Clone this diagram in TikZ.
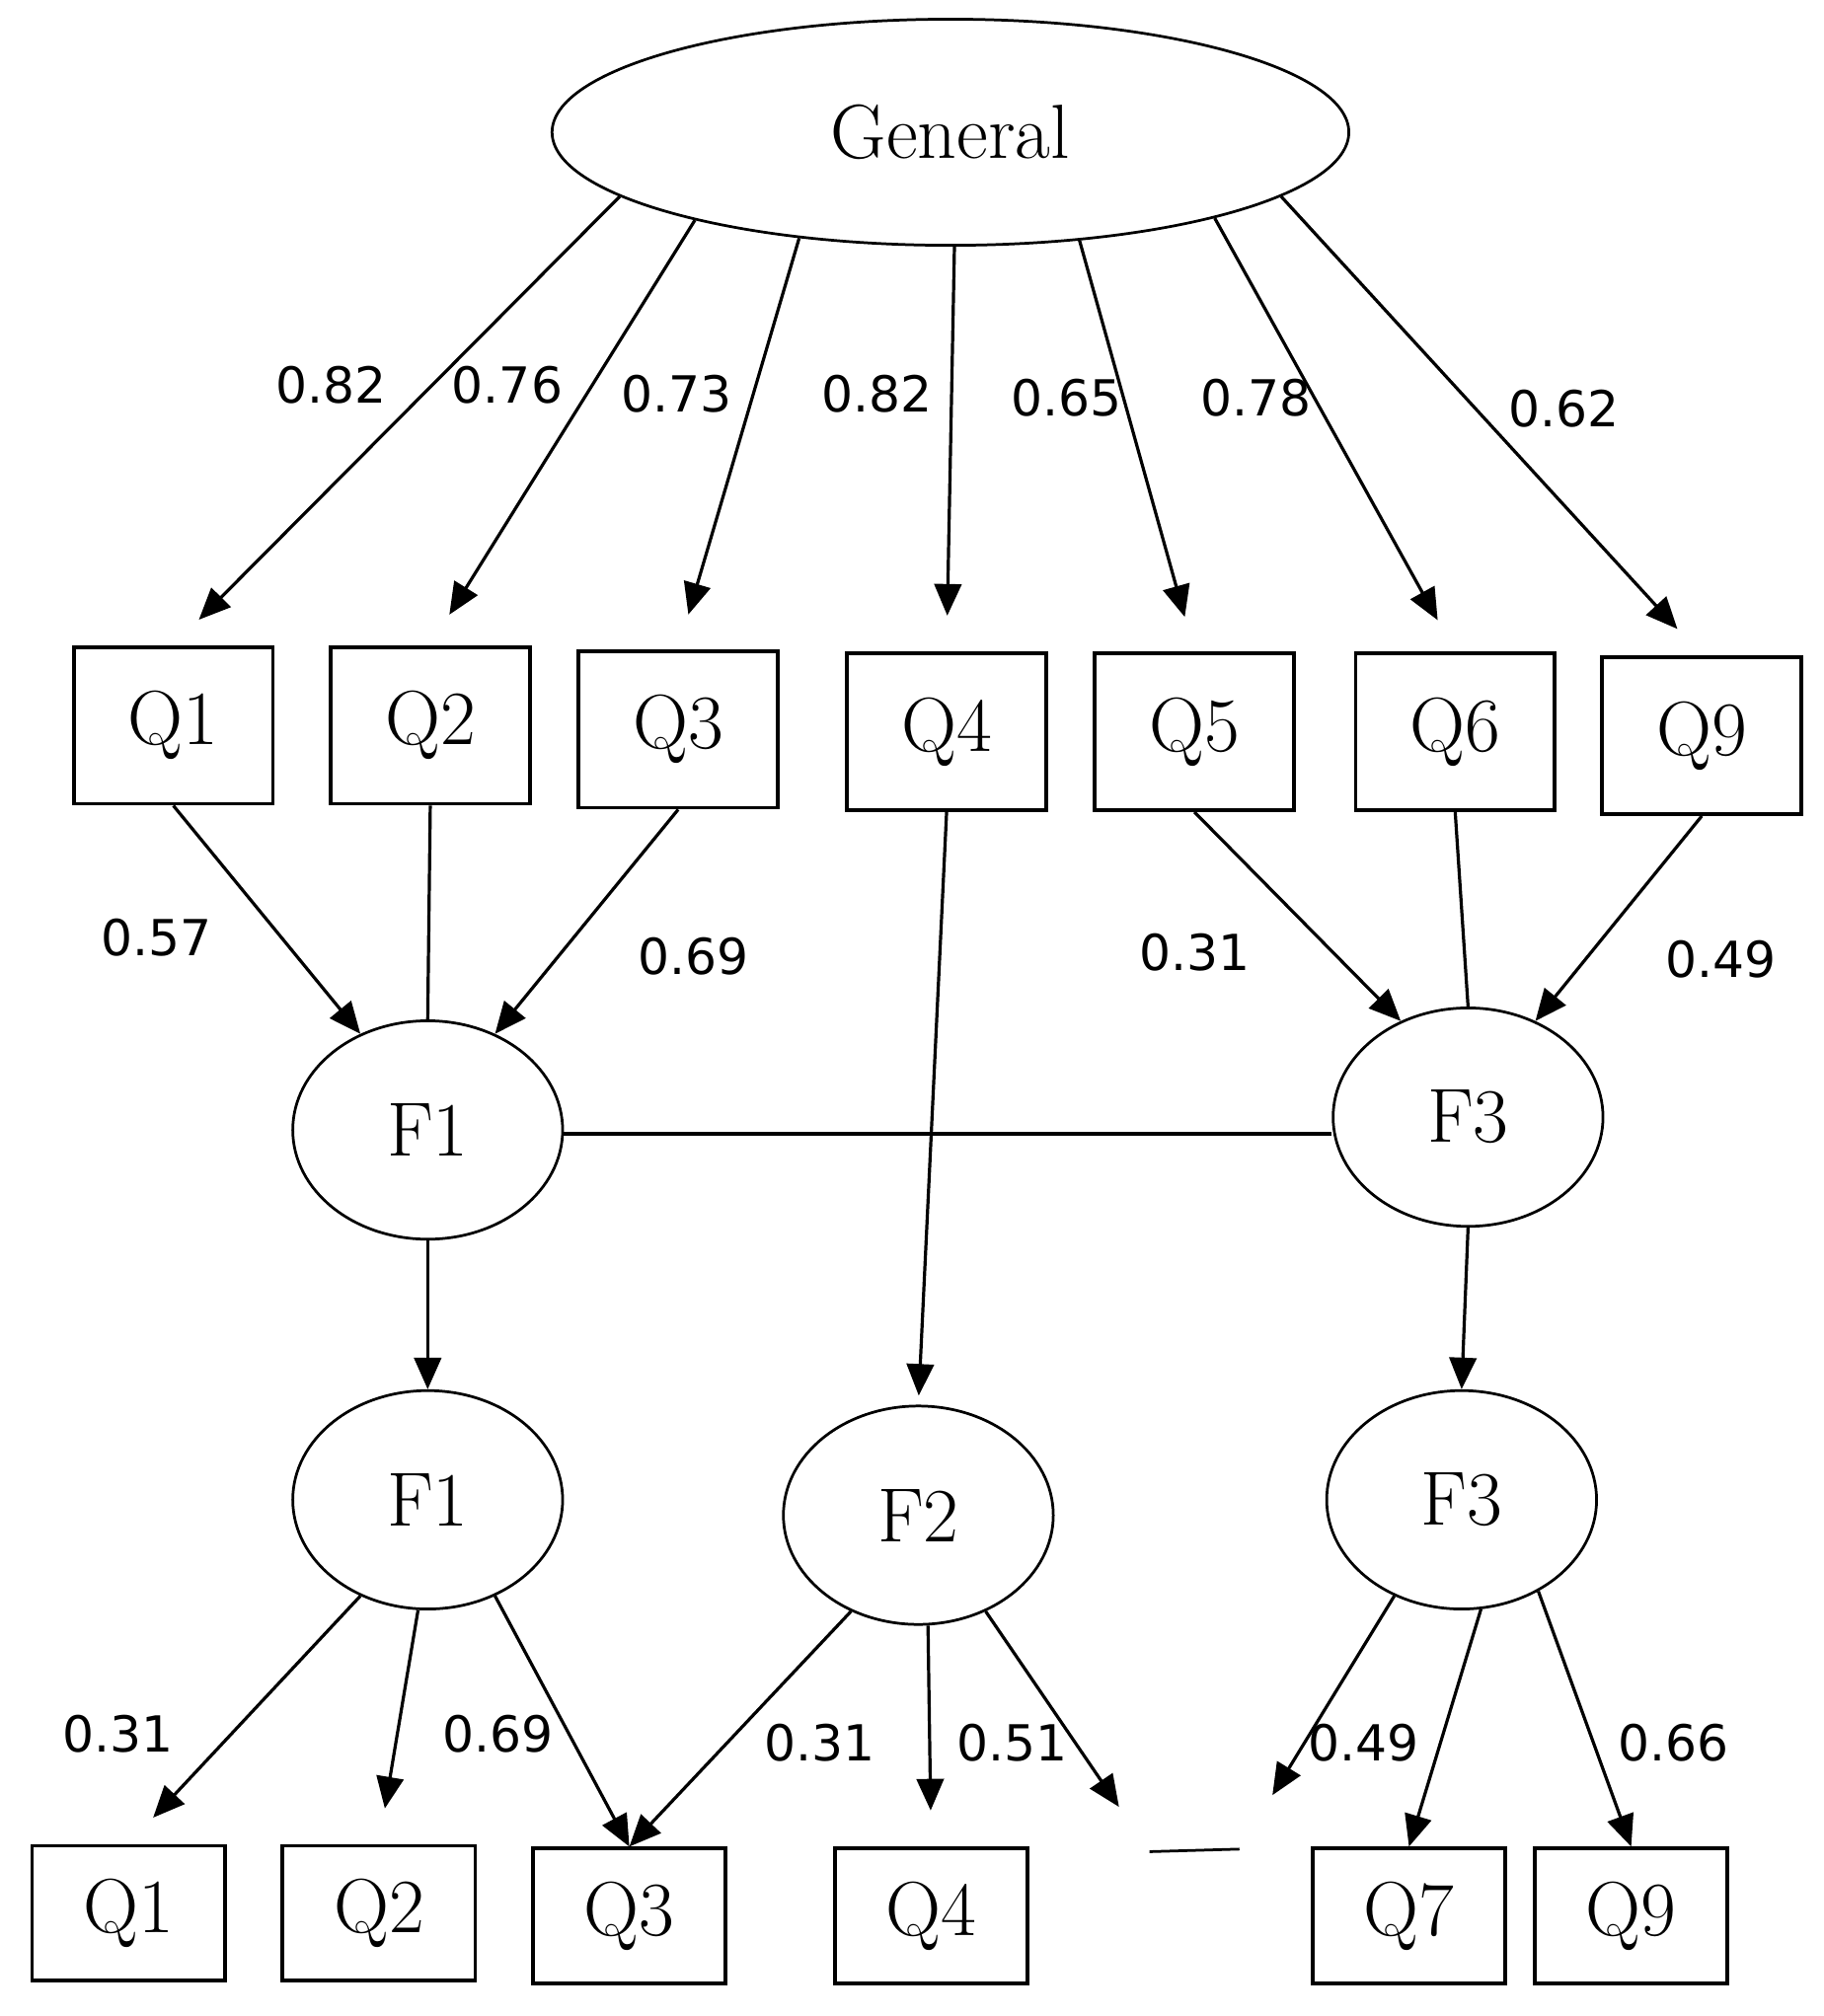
\documentclass[tikz,border=0pt]{standalone}
\usepackage{fontspec}
\newfontfamily\lblfont{DejaVu Sans}
\usetikzlibrary{arrows.meta,shapes.geometric}
\tikzset{
  box/.style={draw,line width=0.8pt,minimum width=1.55cm,minimum height=1.22cm,font=\fontsize{17}{19}\selectfont},
  bbox/.style={draw,line width=0.8pt,minimum width=1.5cm,minimum height=1.05cm,font=\fontsize{17}{19}\selectfont},
  lat/.style={draw,ellipse,line width=0.6pt,minimum width=2.1cm,minimum height=1.7cm,font=\fontsize{17}{19}\selectfont},
  path/.style={-{Triangle[length=7pt,width=6pt]},line width=0.7pt},
  lbl/.style={font=\lblfont\fontsize{11}{13}\selectfont}
}
\begin{document}
\begin{tikzpicture}[x=0.01cm,y=-0.01cm]
\useasboundingbox (0,0) rectangle (1420,1570);
% general factor
\node[lat,minimum width=6.2cm,minimum height=1.76cm] (gen) at (740,103) {General};
% upper items
\node[box] (tq1) at (135,565) {Q1};
\node[box] (tq2) at (335,565) {Q2};
\node[box] (tq3) at (528,568) {Q3};
\node[box] (tq4) at (737,570) {Q4};
\node[box] (tq5) at (930,570) {Q5};
\node[box] (tq6) at (1133,570) {Q6};
\node[box] (tq9) at (1325,573) {Q9};
% factors
\node[lat] (uf1) at (333,880) {F1};
\node[lat] (uf3) at (1143,870) {F3};
\node[lat] (lf1) at (333,1168) {F1};
\node[lat] (lf2) at (715,1180) {F2};
\node[lat] (lf3) at (1138,1168) {F3};
% lower items
\node[bbox] (bq1) at (100,1490) {Q1};
\node[bbox] (bq2) at (295,1490) {Q2};
\node[bbox] (bq3) at (490,1492) {Q3};
\node[bbox] (bq4) at (725,1492) {Q4};
\node[bbox] (bq7) at (1097,1492) {Q7};
\node[bbox] (bq9) at (1270,1492) {Q9};
\coordinate (bl) at (895,1442);
\coordinate (br) at (965,1440);
\draw[line width=0.6pt] (bl) -- (br);
% general loadings
\draw[path,shorten >=8pt] (gen.191) -- (tq1.north);
\draw[path,shorten >=8pt] (gen.199) -- (tq2.north);
\draw[path,shorten >=8pt] (gen.215) -- (tq3.north);
\draw[path,shorten >=8pt] (gen.272) -- (tq4.north);
\draw[path,shorten >=8pt] (gen.320) -- (tq5.north);
\draw[path,shorten >=8pt] (gen.342) -- (tq6.north);
\draw[path,shorten >=8pt] (gen.349) -- (tq9.north);
\node[lbl] at (258,300) {0.82};
\node[lbl] at (395,300) {0.76};
\node[lbl] at (527,307) {0.73};
\node[lbl] at (683,307) {0.82};
\node[lbl] at (830,310) {0.65};
\node[lbl] at (978,310) {0.78};
\node[lbl] at (1218,318) {0.62};
% items to factors
\draw[path] (tq1.south) -- (uf1.125);
\draw[line width=0.7pt] (tq2.south) -- (uf1.north);
\draw[path] (tq3.south) -- (uf1.55);
\draw[path] (tq5.south) -- (uf3.125);
\draw[line width=0.7pt] (tq6.south) -- (uf3.north);
\draw[path] (tq9.south) -- (uf3.55);
\draw[path,shorten >=2pt] (tq4.south) -- (lf2.north);
\node[lbl] at (122,730) {0.57};
\node[lbl] at (540,745) {0.69};
\node[lbl] at (930,742) {0.31};
\node[lbl] at (1340,747) {0.49};
\draw[line width=0.7pt] (uf1.east |- 0,883) -- (uf3.west |- 0,883);
\draw[path] (uf1.south) -- (lf1.north);
\draw[path] (uf3.south) -- (lf3.north);
% lower loadings
\draw[path,shorten >=8pt] (lf1.235) -- (bq1.north);
\draw[path,shorten >=8pt] (lf1.265) -- (bq2.north);
\draw[path] (lf1.305) -- (bq3.north);
\draw[path] (lf2.235) -- (bq3.north);
\draw[path,shorten >=8pt] (lf2.275) -- (bq4.north);
\draw[path,shorten >=12pt] (lf2.305) -- (bl);
\draw[path,shorten >=14pt] (lf3.235) -- (br);
\draw[path] (lf3.280) -- (bq7.north);
\draw[path] (lf3.310) -- (bq9.north);
\node[lbl] at (92,1350) {0.31};
\node[lbl] at (388,1350) {0.69};
\node[lbl] at (638,1357) {0.31};
\node[lbl] at (788,1357) {0.51};
\node[lbl] at (1062,1357) {0.49};
\node[lbl] at (1303,1357) {0.66};
\end{tikzpicture}
\end{document}
